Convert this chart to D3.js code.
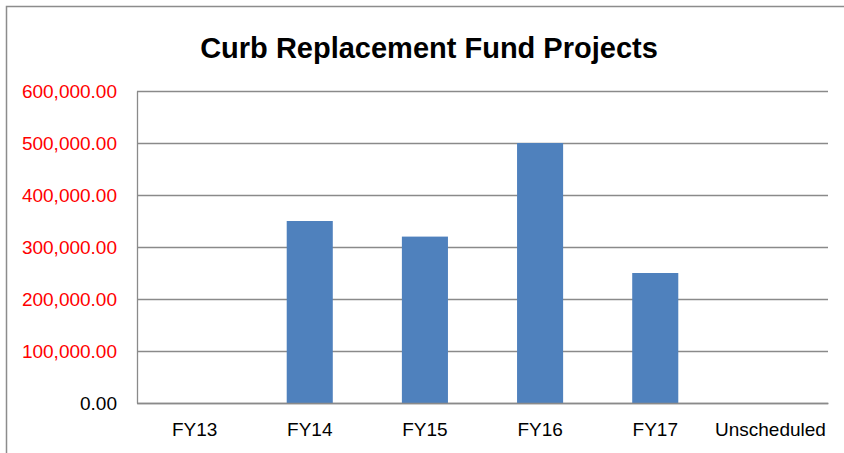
<!DOCTYPE html>
<meta charset="utf-8">
<script src="https://d3js.org/d3.v7.min.js"></script>
<style>
  body { margin: 0; background: #fff; }
  text { font-family: "Liberation Sans", Arial, sans-serif; }
</style>
<div id="chart"></div>
<script>
  // chart data
  var categories = ["FY13", "FY14", "FY15", "FY16", "FY17", "Unscheduled"];
  var amounts = [0, 350000, 320000, 500000, 250000, 0];
  var yTicks = [0, 100000, 200000, 300000, 400000, 500000, 600000];
  var title = "Curb Replacement Fund Projects";

  var W = 844, H = 453;
  var margin = { top: 91, right: 16, bottom: 50, left: 137 },
    width = W - margin.left - margin.right,
    height = H - margin.top - margin.bottom;

  var root = d3.select("#chart")
    .append("svg")
    .attr("width", W)
    .attr("height", H);

  // outer frame (only left and top edges show)
  root.append("path")
    .attr("d", "M6.5," + H + "V6.5H" + W)
    .attr("fill", "none")
    .attr("stroke", "#8c8c8c")
    .attr("stroke-width", 1.5);

  root.append("text")
    .attr("x", 429)
    .attr("y", 58)
    .attr("text-anchor", "middle")
    .style("font-size", "29px")
    .style("font-weight", "bold")
    .text(title);

  var svg = root.append("g")
    .attr("transform", "translate(" + margin.left + "," + margin.top + ")");

  var x = d3.scaleBand()
    .domain(categories)
    .range([0, width])
    .paddingInner(0.6)
    .paddingOuter(0.3);

  var y = d3.scaleLinear()
    .domain([0, 600000])
    .range([height, 0]);

  var fmt = d3.format(",.2f");

  // gridlines
  svg.append("g")
    .selectAll("line")
    .data(yTicks)
    .enter()
    .append("line")
    .attr("x1", 0)
    .attr("x2", width)
    .attr("y1", function (d) { return Math.round(y(d)) + 0.5; })
    .attr("y2", function (d) { return Math.round(y(d)) + 0.5; })
    .attr("stroke", "#8a8a8a")
    .attr("stroke-width", 1.3);

  // Y axis
  var yAxis = svg.append("g")
    .call(d3.axisLeft(y).tickValues(yTicks).tickFormat(fmt).tickSize(0).tickPadding(20));
  yAxis.select(".domain").attr("stroke", "#8a8a8a").attr("stroke-width", 1.3);
  yAxis.selectAll("text")
    .style("font-size", "19px")
    .attr("fill", function (d) { return d === 0 ? "#000" : "#ff0000"; });

  // bars
  svg.selectAll("rect")
    .data(amounts)
    .enter()
    .append("rect")
    .attr("x", function (d, i) { return x(categories[i]); })
    .attr("y", function (d) { return y(d); })
    .attr("width", x.bandwidth())
    .attr("height", function (d) { return height - y(d); })
    .attr("fill", "#4f81bd");

  // X axis
  var xAxis = svg.append("g")
    .attr("transform", "translate(0," + height + ")")
    .call(d3.axisBottom(x).tickSize(0).tickPadding(20));
  xAxis.select(".domain").attr("stroke", "#8a8a8a").attr("stroke-width", 1.3);
  xAxis.selectAll("text")
    .style("font-size", "19px")
    .attr("fill", "#000");
</script>
